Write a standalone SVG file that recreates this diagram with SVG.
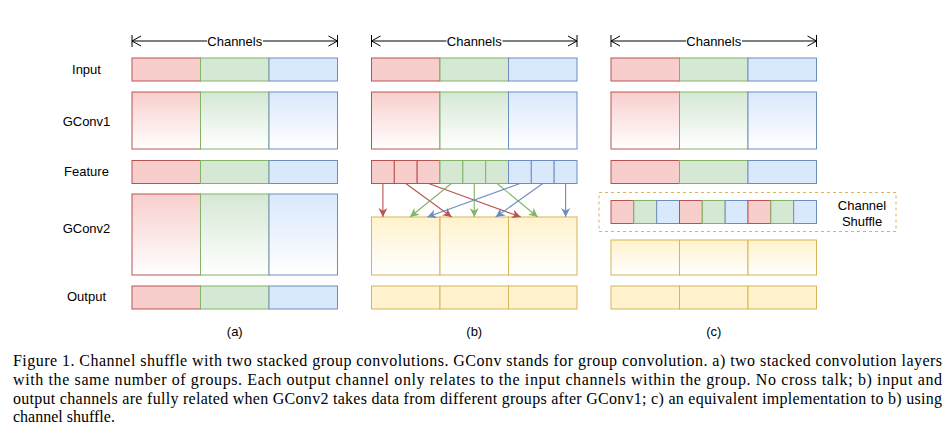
<svg xmlns="http://www.w3.org/2000/svg" width="952" height="436" viewBox="0 0 952 436">
<style>
.lbl{font-family:"Liberation Sans",Arial,sans-serif;font-size:13px;fill:#000;text-anchor:middle}
.cap{font-family:"Liberation Serif","Times New Roman",serif;font-size:16px;fill:#000}
.r{fill:#f8cecc;stroke:#b85450;stroke-width:1}
.g{fill:#d5e8d4;stroke:#82b366;stroke-width:1}
.b{fill:#dae8fc;stroke:#6c8ebf;stroke-width:1}
.y{fill:#fff2cc;stroke:#d6b656;stroke-width:1}
.rg{fill:url(#gr);stroke:#b85450;stroke-width:1}
.gg{fill:url(#gg);stroke:#82b366;stroke-width:1}
.bg{fill:url(#gb);stroke:#6c8ebf;stroke-width:1}
.yg{fill:url(#gy);stroke:#d6b656;stroke-width:1}
.dim{stroke:#000;stroke-width:1;fill:none}
.ar{fill:none;stroke-width:1.1}
</style>
<defs>
<linearGradient id="gr" x1="0" y1="0" x2="0" y2="1"><stop offset="0" stop-color="#f8cecc"/><stop offset="1" stop-color="#ffffff"/></linearGradient>
<linearGradient id="gg" x1="0" y1="0" x2="0" y2="1"><stop offset="0" stop-color="#d5e8d4"/><stop offset="1" stop-color="#ffffff"/></linearGradient>
<linearGradient id="gb" x1="0" y1="0" x2="0" y2="1"><stop offset="0" stop-color="#dae8fc"/><stop offset="1" stop-color="#ffffff"/></linearGradient>
<linearGradient id="gy" x1="0" y1="0" x2="0" y2="1"><stop offset="0" stop-color="#fff2cc"/><stop offset="1" stop-color="#ffffff"/></linearGradient>
<marker id="mr" viewBox="0 0 10 10" refX="10" refY="5" markerWidth="9" markerHeight="9" markerUnits="userSpaceOnUse" orient="auto"><path d="M0,0 L10,5 L0,10 L3,5 Z" fill="#b85450"/></marker>
<marker id="mg" viewBox="0 0 10 10" refX="10" refY="5" markerWidth="9" markerHeight="9" markerUnits="userSpaceOnUse" orient="auto"><path d="M0,0 L10,5 L0,10 L3,5 Z" fill="#82b366"/></marker>
<marker id="mb" viewBox="0 0 10 10" refX="10" refY="5" markerWidth="9" markerHeight="9" markerUnits="userSpaceOnUse" orient="auto"><path d="M0,0 L10,5 L0,10 L3,5 Z" fill="#6c8ebf"/></marker>
</defs>
<rect width="952" height="436" fill="#fff"/>

<g id="row-labels">
<text class="lbl" x="86.5" y="73.5">Input</text>
<text class="lbl" x="86.5" y="126">GConv1</text>
<text class="lbl" x="86.5" y="176">Feature</text>
<text class="lbl" x="86.5" y="232.5">GConv2</text>
<text class="lbl" x="86.5" y="301">Output</text>
</g>

<!-- Panel (a) -->
<g id="a-input"><rect class="r" x="132" y="58" width="68.5" height="23"/><rect class="g" x="200.5" y="58" width="68.5" height="23"/><rect class="b" x="269" y="58" width="68.5" height="23"/></g>
<g id="a-gconv1"><rect class="rg" x="132" y="92" width="68.5" height="57"/><rect class="gg" x="200.5" y="92" width="68.5" height="57"/><rect class="bg" x="269" y="92" width="68.5" height="57"/></g>
<g id="a-feature"><rect class="r" x="132" y="160.5" width="68.5" height="23"/><rect class="g" x="200.5" y="160.5" width="68.5" height="23"/><rect class="b" x="269" y="160.5" width="68.5" height="23"/></g>
<g id="a-gconv2"><rect class="rg" x="132" y="194" width="68.5" height="81"/><rect class="gg" x="200.5" y="194" width="68.5" height="81"/><rect class="bg" x="269" y="194" width="68.5" height="81"/></g>
<g id="a-output"><rect class="r" x="132" y="286" width="68.5" height="23"/><rect class="g" x="200.5" y="286" width="68.5" height="23"/><rect class="b" x="269" y="286" width="68.5" height="23"/></g>
<text class="lbl" x="234.75" y="336">(a)</text>

<!-- Panel (b) -->
<g id="b-input"><rect class="r" x="371.5" y="58" width="68.5" height="23"/><rect class="g" x="440" y="58" width="68.5" height="23"/><rect class="b" x="508.5" y="58" width="68.5" height="23"/></g>
<g id="b-gconv1"><rect class="rg" x="371.5" y="92" width="68.5" height="57"/><rect class="gg" x="440" y="92" width="68.5" height="57"/><rect class="bg" x="508.5" y="92" width="68.5" height="57"/></g>
<g id="b-feature">
<rect class="r" x="371.5" y="160.5" width="22.83" height="23"/><rect class="r" x="394.33" y="160.5" width="22.83" height="23"/><rect class="r" x="417.17" y="160.5" width="22.83" height="23"/>
<rect class="g" x="440" y="160.5" width="22.83" height="23"/><rect class="g" x="462.83" y="160.5" width="22.83" height="23"/><rect class="g" x="485.67" y="160.5" width="22.83" height="23"/>
<rect class="b" x="508.5" y="160.5" width="22.83" height="23"/><rect class="b" x="531.33" y="160.5" width="22.83" height="23"/><rect class="b" x="554.17" y="160.5" width="22.83" height="23"/>
</g>
<g id="b-gconv2"><rect class="yg" x="371.5" y="217" width="68.5" height="58"/><rect class="yg" x="440" y="217" width="68.5" height="58"/><rect class="yg" x="508.5" y="217" width="68.5" height="58"/></g>
<g id="b-output"><rect class="y" x="371.5" y="286" width="68.5" height="23"/><rect class="y" x="440" y="286" width="68.5" height="23"/><rect class="y" x="508.5" y="286" width="68.5" height="23"/></g>
<text class="lbl" x="474.25" y="336">(b)</text>

<!-- Panel (c) -->
<g id="c-input"><rect class="r" x="611" y="58" width="68.5" height="23"/><rect class="g" x="679.5" y="58" width="68.5" height="23"/><rect class="b" x="748" y="58" width="68.5" height="23"/></g>
<g id="c-gconv1"><rect class="rg" x="611" y="92" width="68.5" height="57"/><rect class="gg" x="679.5" y="92" width="68.5" height="57"/><rect class="bg" x="748" y="92" width="68.5" height="57"/></g>
<g id="c-feature"><rect class="r" x="611" y="160.5" width="68.5" height="23"/><rect class="g" x="679.5" y="160.5" width="68.5" height="23"/><rect class="b" x="748" y="160.5" width="68.5" height="23"/></g>
<g id="c-shuffle-box">
<rect x="599" y="192.5" width="297" height="39" fill="none" stroke="#d6b656" stroke-width="1" stroke-dasharray="3 3"/>
<text class="lbl" x="862" y="209.5">Channel</text>
<text class="lbl" x="862" y="225.5">Shuffle</text>
</g>
<g id="c-shuffled">
<rect class="r" x="611" y="200.5" width="22.83" height="23"/><rect class="g" x="633.83" y="200.5" width="22.83" height="23"/><rect class="b" x="656.67" y="200.5" width="22.83" height="23"/>
<rect class="r" x="679.5" y="200.5" width="22.83" height="23"/><rect class="g" x="702.33" y="200.5" width="22.83" height="23"/><rect class="b" x="725.17" y="200.5" width="22.83" height="23"/>
<rect class="r" x="748" y="200.5" width="22.83" height="23"/><rect class="g" x="770.83" y="200.5" width="22.83" height="23"/><rect class="b" x="793.67" y="200.5" width="22.83" height="23"/>
</g>
<g id="c-gconv2"><rect class="yg" x="611" y="240" width="68.5" height="35"/><rect class="yg" x="679.5" y="240" width="68.5" height="35"/><rect class="yg" x="748" y="240" width="68.5" height="35"/></g>
<g id="c-output"><rect class="y" x="611" y="286" width="68.5" height="23"/><rect class="y" x="679.5" y="286" width="68.5" height="23"/><rect class="y" x="748" y="286" width="68.5" height="23"/></g>
<text class="lbl" x="713.75" y="336">(c)</text>

<g id="connectors">
<!-- Channels dimension arrows -->
<g class="dim">
<path d="M132,35 V47 M132,41 H337.5 M337.5,35 V47 M141,36 L132,41 L141,46 M328.5,36 L337.5,41 L328.5,46"/>
<path d="M371.5,35 V47 M371.5,41 H577 M577,35 V47 M380.5,36 L371.5,41 L380.5,46 M568,36 L577,41 L568,46"/>
<path d="M611,35 V47 M611,41 H816.5 M816.5,35 V47 M620,36 L611,41 L620,46 M807.5,36 L816.5,41 L807.5,46"/>
</g>
<rect x="207" y="34" width="56" height="14" fill="#fff"/>
<rect x="446.5" y="34" width="56" height="14" fill="#fff"/>
<rect x="686" y="34" width="56" height="14" fill="#fff"/>
<text class="lbl" x="234.75" y="45.5">Channels</text>
<text class="lbl" x="474.25" y="45.5">Channels</text>
<text class="lbl" x="713.75" y="45.5">Channels</text>
<!-- shuffle arrows in (b) -->
<path class="ar" stroke="#b85450" marker-end="url(#mr)" d="M382.9,183.5 L382.9,217"/>
<path class="ar" stroke="#b85450" marker-end="url(#mr)" d="M405.75,183.5 L451.7,217"/>
<path class="ar" stroke="#b85450" marker-end="url(#mr)" d="M428.6,183.5 L520.7,217"/>
<path class="ar" stroke="#82b366" marker-end="url(#mg)" d="M451.4,183.5 L410,217"/>
<path class="ar" stroke="#82b366" marker-end="url(#mg)" d="M474.25,183.5 L474.25,217"/>
<path class="ar" stroke="#82b366" marker-end="url(#mg)" d="M497.1,183.5 L537.7,217"/>
<path class="ar" stroke="#6c8ebf" marker-end="url(#mb)" d="M519.9,183.5 L427.3,217"/>
<path class="ar" stroke="#6c8ebf" marker-end="url(#mb)" d="M542.75,183.5 L495.7,217"/>
<path class="ar" stroke="#6c8ebf" marker-end="url(#mb)" d="M565.6,183.5 L565.6,217"/>
</g>

<g id="caption">
<text class="cap" x="13" y="366" textLength="929" lengthAdjust="spacing">Figure 1. Channel shuffle with two stacked group convolutions. GConv stands for group convolution. a) two stacked convolution layers</text>
<text class="cap" x="13" y="385" textLength="929" lengthAdjust="spacing">with the same number of groups.  Each output channel only relates to the input channels within the group.  No cross talk; b) input and</text>
<text class="cap" x="13" y="403.5" textLength="929" lengthAdjust="spacing">output channels are fully related when GConv2 takes data from different groups after GConv1; c) an equivalent implementation to b) using</text>
<text class="cap" x="13" y="422">channel shuffle.</text>
</g>
</svg>
